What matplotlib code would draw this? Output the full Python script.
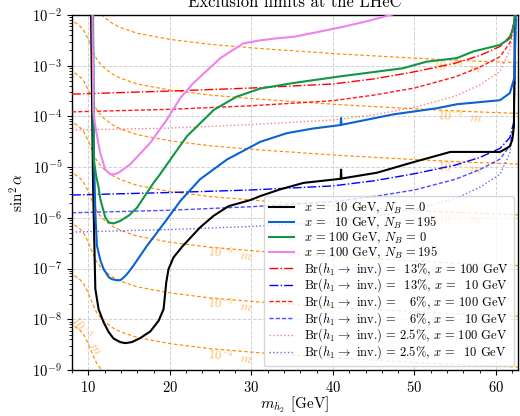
import numpy as np
import matplotlib
matplotlib.use("Agg")
import matplotlib.pyplot as plt

plt.rcParams.update({
    "font.family": "serif",
    "font.serif": ["cmr10", "DejaVu Serif"],
    "mathtext.fontset": "cm",
    "axes.formatter.use_mathtext": True,
    "axes.unicode_minus": False,
})

# ---------------- data (log10 of sin^2 alpha) ----------------
m_black = [10.33, 10.57, 10.86, 11.26, 11.88, 12.49, 13.10, 13.92, 14.53, 15.35, 16.37, 17.60,
           18.62, 19.23, 19.44, 19.56, 19.84, 20.45, 21.50, 23.70, 25.36, 27.20, 29.85, 31.10,
           33.50, 36.40, 40.95, 41.00, 41.05, 45.40, 49.90, 54.40, 60.50, 61.70, 62.00, 62.20, 62.33]
log_black = [-1.9, -5.24, -7.40, -7.80, -8.06, -8.25, -8.38, -8.45, -8.47, -8.45, -8.37, -8.24,
             -8.03, -7.80, -7.47, -7.27, -7.01, -6.78, -6.57, -6.19, -5.96, -5.77, -5.65, -5.57,
             -5.44, -5.31, -5.23, -5.05, -5.225, -5.11, -4.90, -4.70, -4.70, -4.59, -4.46, -4.20, -1.9]

m_blue = [10.55, 10.70, 10.86, 11.06, 11.50, 11.88, 12.50, 12.90, 13.50, 13.92, 14.30, 14.74,
          15.50, 17.20, 19.64, 21.27, 23.70, 27.00, 31.10, 34.35, 37.50, 40.95, 41.00, 41.05,
          47.40, 52.70, 55.20, 60.50, 61.70, 62.30, 62.40]
log_blue = [-1.9, -4.8, -5.9, -6.55, -6.85, -7.01, -7.17, -7.21, -7.23, -7.23, -7.18, -7.11,
            -6.95, -6.55, -6.03, -5.67, -5.24, -4.85, -4.50, -4.33, -4.24, -4.17, -4.03, -4.165,
            -3.96, -3.84, -3.76, -3.68, -3.54, -3.21, -1.9]

m_green = [10.58, 10.65, 11.00, 11.26, 11.47, 12.08, 12.50, 13.10, 13.92, 15.00, 15.97, 18.00,
           18.80, 20.50, 22.10, 25.40, 28.20, 31.10, 35.20, 40.90, 43.30, 48.60, 51.50, 55.20,
           57.20, 60.50, 61.70, 62.20, 62.35]
log_green = [-1.9, -4.85, -5.20, -5.40, -5.63, -5.99, -6.09, -6.11, -6.06, -5.95, -5.80, -5.31,
             -5.14, -4.75, -4.39, -3.87, -3.61, -3.45, -3.34, -3.21, -3.16, -3.05, -2.92, -2.85,
             -2.72, -2.59, -2.46, -2.20, -1.9]

m_pink = [10.50, 10.62, 10.86, 11.20, 11.47, 12.08, 12.70, 13.20, 13.70, 15.10, 17.60, 19.64,
          21.27, 22.90, 26.20, 29.00, 31.10, 33.10, 35.20, 38.00, 41.30, 44.00, 46.60, 47.50]
log_pink = [-1.9, -3.9, -4.19, -4.50, -4.72, -5.05, -5.14, -5.14, -5.11, -4.95, -4.52, -4.06,
            -3.64, -3.34, -2.85, -2.56, -2.50, -2.46, -2.43, -2.34, -2.23, -2.13, -2.02, -1.98]

# Br(h1 -> inv.) limits
m_br = [8.0, 20.0, 30.0, 40.0, 45.0, 50.0, 55.0, 58.0, 60.5, 61.7, 62.2, 62.45]
log_br13_x100 = [-3.56, -3.50, -3.44, -3.36, -3.26, -3.12, -2.95, -2.80, -2.62, -2.42, -2.15, -1.9]
log_br13_x10 = [-5.55, -5.50, -5.45, -5.37, -5.27, -5.13, -4.96, -4.81, -4.63, -4.42, -4.10, -1.9]
log_br6_x100 = [-3.91, -3.86, -3.79, -3.69, -3.58, -3.44, -3.22, -3.03, -2.82, -2.55, -2.20, -1.9]
log_br6_x10 = [-5.90, -5.85, -5.78, -5.68, -5.58, -5.45, -5.24, -5.05, -4.84, -4.58, -4.15, -1.9]
log_br25_x100 = [-4.27, -4.23, -4.16, -4.07, -3.97, -3.82, -3.60, -3.38, -3.11, -2.69, -2.25, -1.9]
log_br25_x10 = [-6.28, -6.23, -6.17, -6.08, -5.98, -5.83, -5.62, -5.40, -5.14, -4.72, -4.20, -1.9]

# decay-length contours
m_tau = [8.3, 8.5, 9.0, 9.5, 10.0, 10.5, 11.0, 11.5, 12.0, 13.0, 14.0, 16.0, 20.0, 25.0, 31.0,
         41.0, 50.0, 56.0, 62.7]
log_tau_1e10 = [-1.14, -1.16, -1.22, -1.32, -1.48, -1.68, -1.86, -1.97, -2.05, -2.17, -2.25, -2.36,
                -2.48, -2.58, -2.66, -2.77, -2.85, -2.90, -2.94]
log_tau_1e9 = [-2.14, -2.16, -2.22, -2.32, -2.48, -2.68, -2.86, -2.97, -3.05, -3.17, -3.25, -3.36,
               -3.48, -3.58, -3.66, -3.77, -3.85, -3.90, -3.94]
log_tau_1e8 = [-3.14, -3.16, -3.22, -3.32, -3.48, -3.68, -3.86, -3.97, -4.05, -4.17, -4.25, -4.36,
               -4.48, -4.58, -4.66, -4.77, -4.85, -4.90, -4.94]
log_tau_1e7 = [-4.14, -4.16, -4.22, -4.32, -4.48, -4.68, -4.86, -4.97, -5.05, -5.17, -5.25, -5.36,
               -5.48, -5.58, -5.66, -5.77, -5.85, -5.90, -5.94]
log_tau_1e6 = [-5.14, -5.16, -5.22, -5.32, -5.48, -5.68, -5.86, -5.97, -6.05, -6.17, -6.25, -6.36,
               -6.48, -6.58, -6.66, -6.77, -6.85, -6.90, -6.94]
log_tau_1e5 = [-6.14, -6.16, -6.22, -6.32, -6.48, -6.68, -6.86, -6.97, -7.05, -7.17, -7.25, -7.36,
               -7.48, -7.58, -7.66, -7.77, -7.85, -7.90, -7.94]
log_tau_1e4 = [-7.14, -7.16, -7.22, -7.32, -7.48, -7.68, -7.86, -7.97, -8.05, -8.17, -8.25, -8.36,
               -8.48, -8.58, -8.66, -8.77, -8.85, -8.90, -8.94]
log_tau_1e3 = [-8.14, -8.16, -8.22, -8.32, -8.48, -8.68, -8.86, -8.97, -9.05, -9.17, -9.25, -9.36,
               -9.48, -9.58, -9.66, -9.77, -9.85, -9.90, -9.94]

tau_labels = [r"$10^{-10}\ \ m$", r"$10^{-9}\ \ m$", r"$10^{-8}\ \ m$", r"$10^{-7}\ \ m$",
              r"$10^{-6}\ \ m$", r"$10^{-5}\ \ m$", r"$10^{-4}\ \ m$", r"$10^{-3}\ \ m$"]
tau_label_m = [55.2, 55.6, 55.6, 55.6, 27.4, 27.4, 27.4, 9.75]
tau_label_log = [-3.03, -4.01, -5.01, -6.03, -6.72, -7.72, -8.74, -8.33]
tau_label_rot = [-4, -4, -4, -4, -7, -7, -7, -55]

def v(a):
    return 10.0 ** np.asarray(a)

fig = plt.figure(figsize=(5.2, 4.16), dpi=100)
ax = fig.add_axes([72/520, 46/416, 446/520, 355/416])

orange = "darkorange"
for arr in [log_tau_1e10, log_tau_1e9, log_tau_1e8, log_tau_1e7,
            log_tau_1e6, log_tau_1e5, log_tau_1e4, log_tau_1e3]:
    ax.plot(m_tau, v(arr), color=orange, lw=0.85, ls=(0, (3, 2)), zorder=2)
for lab, xm, yl, rot in zip(tau_labels, tau_label_m, tau_label_log, tau_label_rot):
    ax.text(xm, 10**yl, lab, color=orange, alpha=0.6, fontsize=9, rotation=rot,
            ha="center", va="center", zorder=2)

EQ = r"\,=\,"
ax.plot(m_br, v(log_br13_x100), color="red", lw=1.0, ls="-.", zorder=3,
        label=r"Br$(h_1\rightarrow$ inv.$)" + EQ + r"\;\, 13\%$, $x" + EQ + r"100$ GeV")
ax.plot(m_br, v(log_br13_x10), color="blue", lw=1.0, ls="-.", zorder=3,
        label=r"Br$(h_1\rightarrow$ inv.$)" + EQ + r"\;\, 13\%$, $x" + EQ + r"\enspace 10$ GeV")
ax.plot(m_br, v(log_br6_x100), color="red", lw=1.0, ls="--", dashes=(3, 1.5), alpha=0.9, zorder=3,
        label=r"Br$(h_1\rightarrow$ inv.$)" + EQ + r"\enspace\;\, 6\%$, $x" + EQ + r"100$ GeV")
ax.plot(m_br, v(log_br6_x10), color="blue", lw=1.0, ls="--", dashes=(3, 1.5), alpha=0.7, zorder=3,
        label=r"Br$(h_1\rightarrow$ inv.$)" + EQ + r"\enspace\;\, 6\%$, $x" + EQ + r"\enspace 10$ GeV")
ax.plot(m_br, v(log_br25_x100), color="red", lw=1.0, ls=":", alpha=0.5, zorder=3,
        label=r"Br$(h_1\rightarrow$ inv.$)" + EQ + r"2.5\%$, $x" + EQ + r"100$ GeV")
ax.plot(m_br, v(log_br25_x10), color="blue", lw=1.0, ls=":", alpha=0.6, zorder=3,
        label=r"Br$(h_1\rightarrow$ inv.$)" + EQ + r"2.5\%$, $x" + EQ + r"\enspace 10$ GeV")

ax.plot(m_black, v(log_black), color="black", lw=1.5, zorder=5,
        label=r"$x" + EQ + r"\enspace 10$ GeV, $N_B" + EQ + r"0$")
ax.plot(m_blue, v(log_blue), color="#0b62d0", lw=1.5, zorder=5,
        label=r"$x" + EQ + r"\enspace 10$ GeV, $N_B" + EQ + r"\!195$")
ax.plot(m_green, v(log_green), color="#119646", lw=1.5, zorder=5,
        label=r"$x" + EQ + r"100$ GeV, $N_B" + EQ + r"0$")
ax.plot(m_pink, v(log_pink), color="violet", lw=1.5, zorder=5,
        label=r"$x" + EQ + r"100$ GeV, $N_B" + EQ + r"\!195$")

ax.set_yscale("log")
ax.set_xlim(8.0, 62.7)
ax.set_ylim(1e-9, 1e-2)
ax.xaxis.set_major_locator(plt.MultipleLocator(10))
ax.xaxis.set_minor_locator(plt.MultipleLocator(2))
ax.grid(True, which="major", ls="--", color="#d0d0d0", lw=0.7)
ax.tick_params(labelsize=10.5)
for s in ax.spines.values():
    s.set_linewidth(1.0)

ax.set_xlabel(r"$m_{h_2}$ [GeV]", fontsize=11, labelpad=0)
ax.set_ylabel(r"$\sin^2\alpha$", fontsize=11, labelpad=4)
ax.set_title("Exclusion limits at the LHeC", fontsize=12)

handles, labels = ax.get_legend_handles_labels()
order = [6, 7, 8, 9, 0, 1, 2, 3, 4, 5]
leg = ax.legend([handles[i] for i in order], [labels[i] for i in order],
                loc="lower right", fontsize=9, framealpha=0.8, borderaxespad=0.3,
                labelspacing=-0.08, handlelength=2.0, borderpad=0.4)
leg.set_zorder(10)

fig.savefig("out.png", dpi=100)
